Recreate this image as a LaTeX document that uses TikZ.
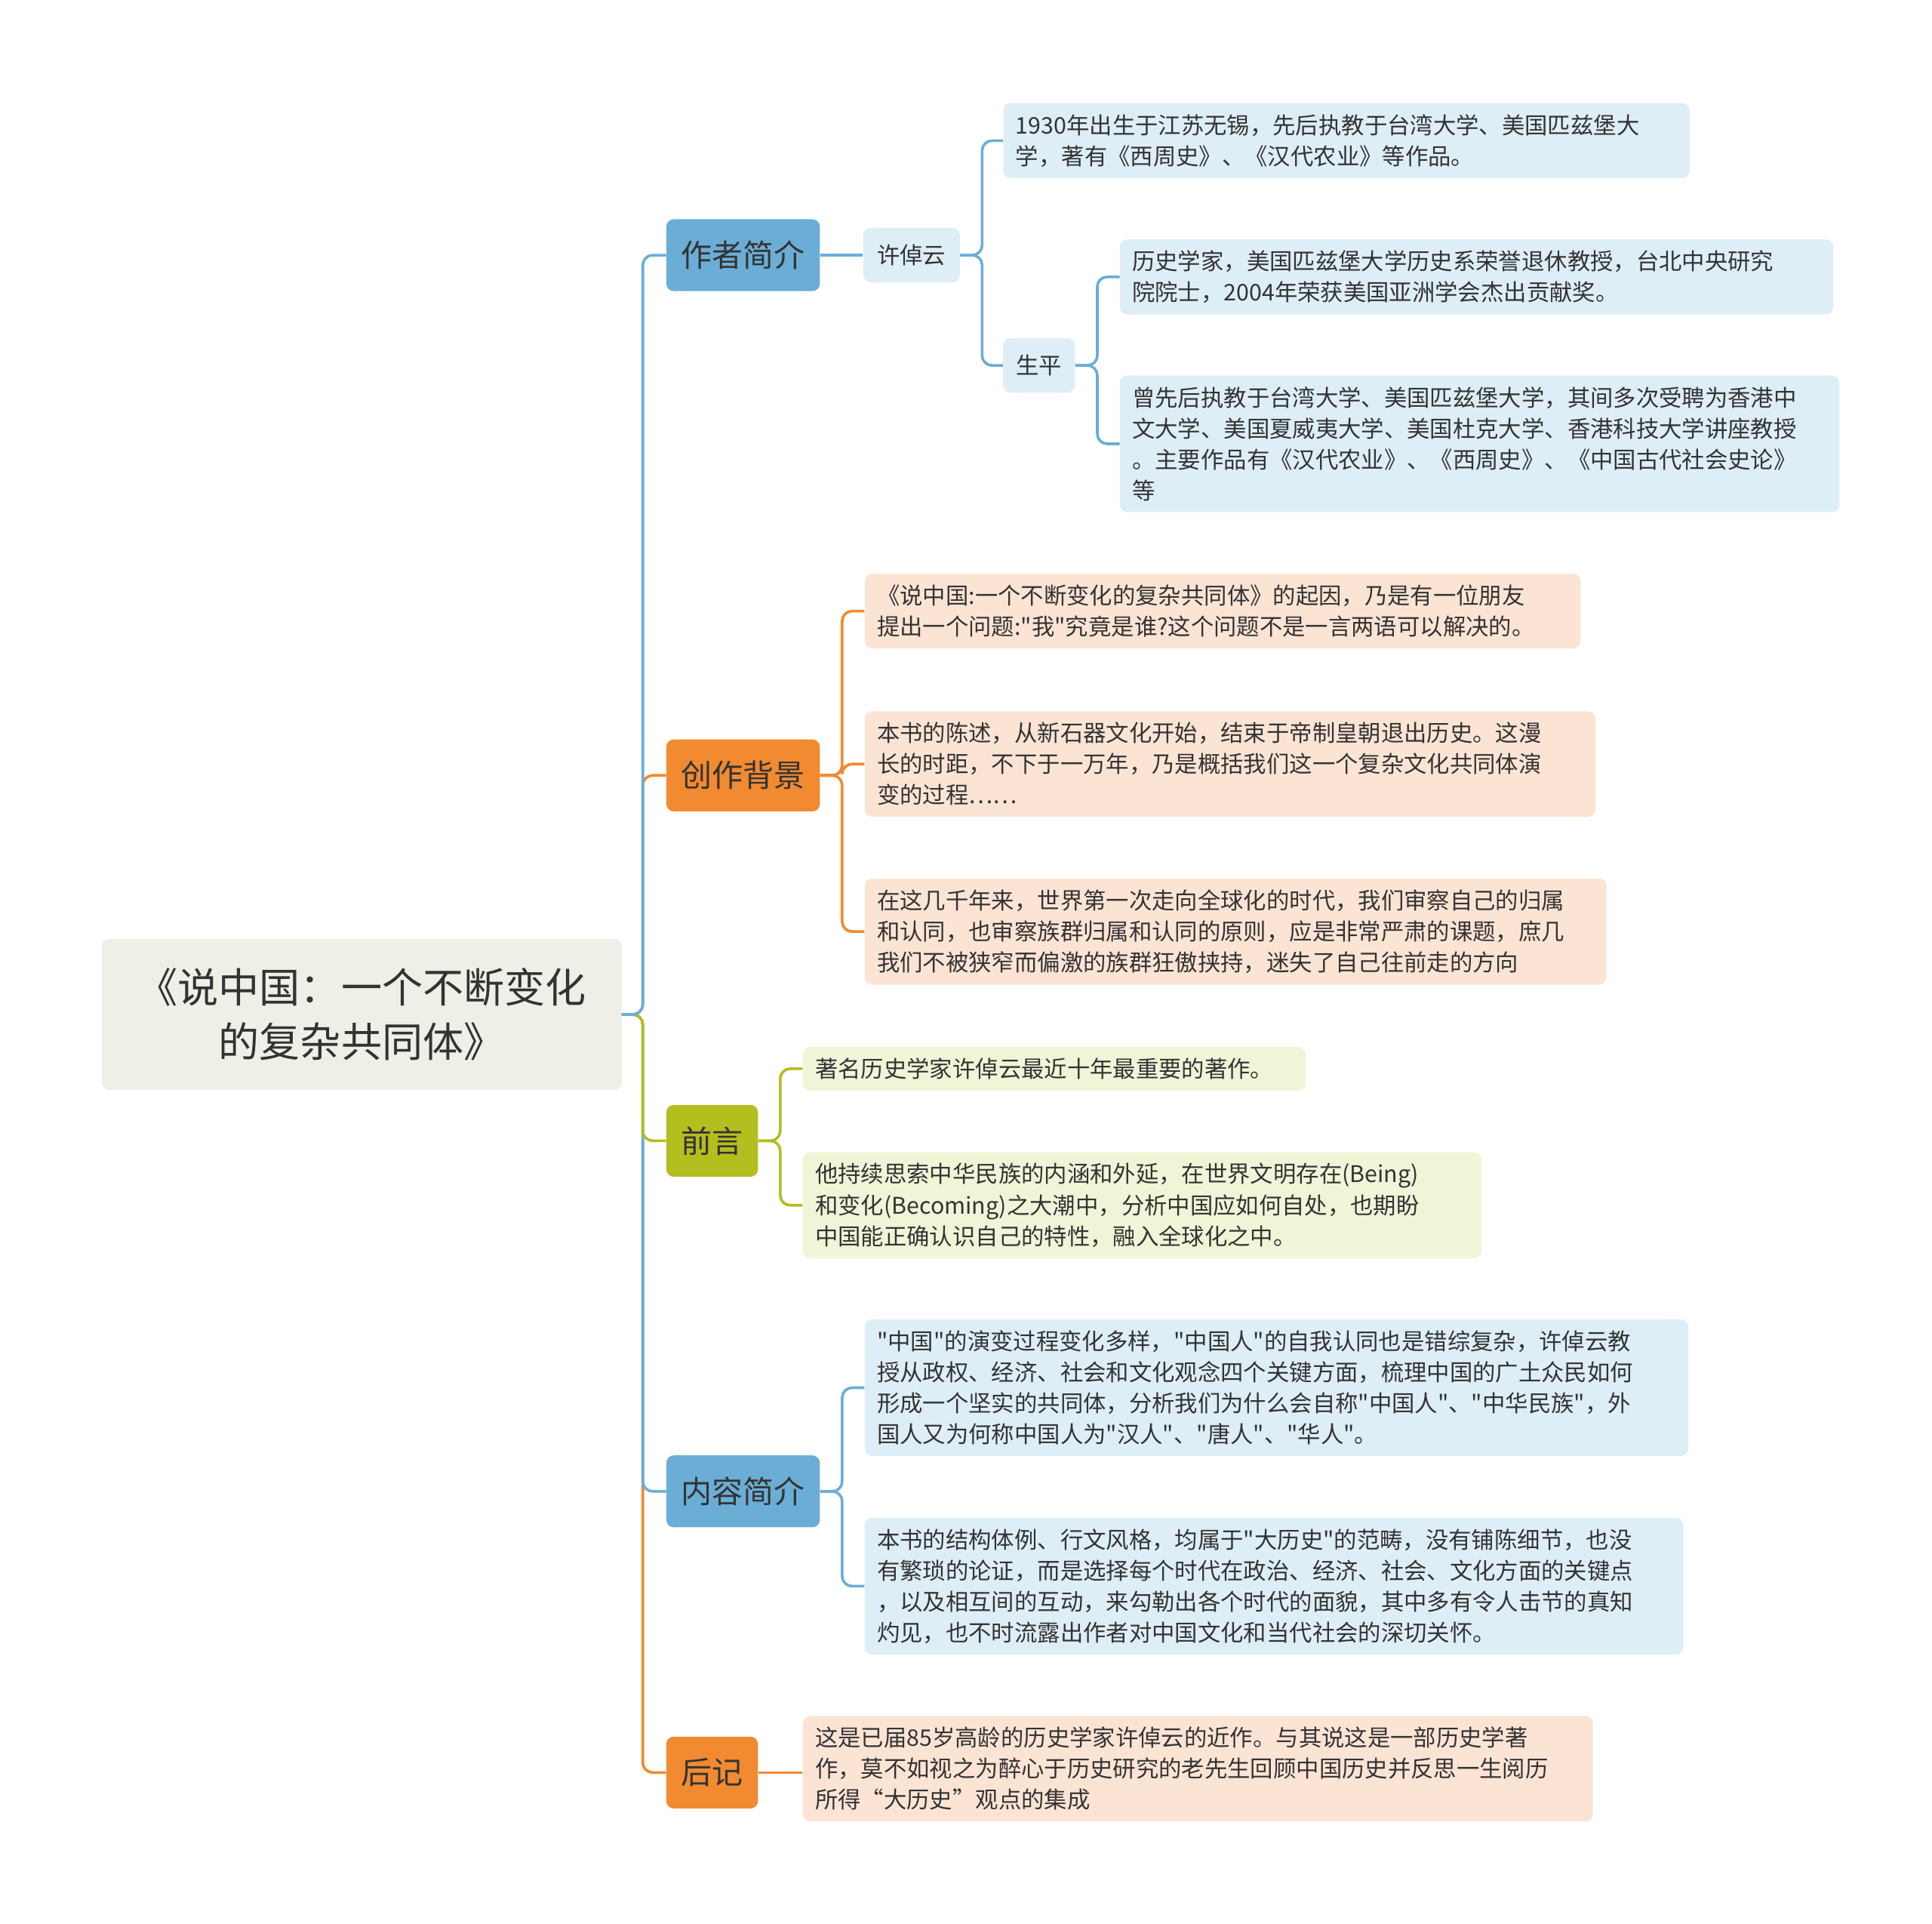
\documentclass[tikz,border=0pt]{standalone}
\usepackage{fontspec}
\setmainfont{Noto Sans CJK SC}[Ligatures=TeXOff]
\definecolor{bblue}{HTML}{6AAED6}
\definecolor{bor}{HTML}{F18A30}
\definecolor{bgr}{HTML}{B3BE1F}
\definecolor{lblue}{HTML}{DEEEF7}
\definecolor{lpeach}{HTML}{FCE4D5}
\definecolor{lyel}{HTML}{F2F4D8}
\definecolor{rootf}{HTML}{EFEFE7}
\definecolor{txt}{HTML}{333333}
\begin{document}
\begin{tikzpicture}[x=1pt,y=-1pt,
  leaf/.style={anchor=north west,rounded corners=6pt,inner xsep=10pt,inner ysep=9pt,align=left,text=txt,font=\fontsize{18.5}{25}\selectfont},
  br/.style={rounded corners=6pt,text=txt,font=\fontsize{25}{30}\selectfont,inner sep=0pt},
  con/.style={line width=2.2pt,rounded corners=8pt}]
\useasboundingbox (0,0) rectangle (1560,1553);
% root
\node[fill=rootf,rounded corners=6pt,minimum width=420pt,minimum height=122pt,align=center,text=txt,font=\fontsize{33}{44}\selectfont] (root) at (292,819) {《说中国：一个不断变化\\的复杂共同体》};
% branches
\node[br,fill=bblue,minimum width=124pt,minimum height=58pt] (b1) at (600,206) {作者简介};
\node[br,fill=bor,minimum width=124pt,minimum height=58pt] (b2) at (600,626) {创作背景};
\node[br,fill=bgr,minimum width=74pt,minimum height=58pt] (b3) at (575,921) {前言};
\node[br,fill=bblue,minimum width=124pt,minimum height=58pt] (b4) at (600,1204) {内容简介};
\node[br,fill=bor,minimum width=74pt,minimum height=58pt] (b5) at (575,1431) {后记};
\coordinate (r) at (502,819);
\draw[con,bor] (r) -- (519,819) |- (b5.west);
\draw[con,bblue] (r) -- (519,819) |- (b4.west);
\draw[con,bgr] (r) -- (519,819) |- (b3.west);
\draw[con,bor] (r) -- (519,819) |- (b2.west);
\draw[con,bblue] (r) -- (519,819) |- (b1.west);
% author
\node[leaf,anchor=center,fill=lblue,minimum width=78pt,minimum height=44pt,inner sep=0pt] (xu) at (736,206) {许倬云};
\draw[con,bblue] (b1.east) -- (xu.west);
\node[leaf,fill=lblue,text width=534pt] (a1) at (810,83) {1930年出生于江苏无锡，先后执教于台湾大学、美国匹兹堡大\\学，著有《西周史》、《汉代农业》等作品。};
\node[leaf,anchor=center,fill=lblue,minimum width=58pt,minimum height=44pt,inner sep=0pt] (sp) at (839,295) {生平};
\draw[con,bblue] (xu.east) -- (793,206) |- (a1.west);
\draw[con,bblue] (xu.east) -- (793,206) |- (sp.west);
\node[leaf,fill=lblue,text width=556pt] (s1) at (904,193) {历史学家，美国匹兹堡大学历史系荣誉退休教授，台北中央研究\\院院士，2004年荣获美国亚洲学会杰出贡献奖。};
\node[leaf,fill=lblue,text width=561pt] (s2) at (904,303) {曾先后执教于台湾大学、美国匹兹堡大学，其间多次受聘为香港中\\文大学、美国夏威夷大学、美国杜克大学、香港科技大学讲座教授\\。主要作品有《汉代农业》、《西周史》、《中国古代社会史论》\\等};
\draw[con,bblue] (sp.east) -- (886,295) |- (s1.west);
\draw[con,bblue] (sp.east) -- (886,295) |- (s2.west);
% background
\node[leaf,fill=lpeach,text width=558pt] (c1) at (698,463) {《说中国:一个不断变化的复杂共同体》的起因，乃是有一位朋友\\提出一个问题:"我"究竟是谁?这个问题不是一言两语可以解决的。};
\node[leaf,fill=lpeach,text width=570pt] (c2) at (698,574) {本书的陈述，从新石器文化开始，结束于帝制皇朝退出历史。这漫\\长的时距，不下于一万年，乃是概括我们这一个复杂文化共同体演\\变的过程……};
\node[leaf,fill=lpeach,text width=579pt] (c3) at (698,709) {在这几千年来，世界第一次走向全球化的时代，我们审察自己的归属\\和认同，也审察族群归属和认同的原则，应是非常严肃的课题，庶几\\我们不被狭窄而偏激的族群狂傲挟持，迷失了自己往前走的方向};
\foreach \c in {c1,c2,c3} \draw[con,bor] (b2.east) -- (680,626) |- (\c.west);
% preface
\node[leaf,fill=lyel,text width=386pt] (p1) at (648,845) {著名历史学家许倬云最近十年最重要的著作。};
\node[leaf,fill=lyel,text width=528pt] (p2) at (648,930) {他持续思索中华民族的内涵和外延，在世界文明存在(Being)\\和变化(Becoming)之大潮中，分析中国应如何自处，也期盼\\中国能正确认识自己的特性，融入全球化之中。};
\foreach \c in {p1,p2} \draw[con,bgr] (b3.east) -- (630,921) |- (\c.west);
% content
\node[leaf,fill=lblue,text width=645pt] (n1) at (698,1065) {"中国"的演变过程变化多样，"中国人"的自我认同也是错综复杂，许倬云教\\授从政权、经济、社会和文化观念四个关键方面，梳理中国的广土众民如何\\形成一个坚实的共同体，分析我们为什么会自称"中国人"、"中华民族"，外\\国人又为何称中国人为"汉人"、"唐人"、"华人"。};
\node[leaf,fill=lblue,text width=641pt] (n2) at (698,1225) {本书的结构体例、行文风格，均属于"大历史"的范畴，没有铺陈细节，也没\\有繁琐的论证，而是选择每个时代在政治、经济、社会、文化方面的关键点\\，以及相互间的互动，来勾勒出各个时代的面貌，其中多有令人击节的真知\\灼见，也不时流露出作者对中国文化和当代社会的深切关怀。};
\foreach \c in {n1,n2} \draw[con,bblue] (b4.east) -- (680,1204) |- (\c.west);
% afterword
\node[leaf,fill=lpeach,text width=618pt] (h1) at (648,1385) {这是已届85岁高龄的历史学家许倬云的近作。与其说这是一部历史学著\\作，莫不如视之为醉心于历史研究的老先生回顾中国历史并反思一生阅历\\所得“大历史”观点的集成};
\draw[con,bor] (b5.east) -- (h1.west|-b5.east);
\end{tikzpicture}
\end{document}
